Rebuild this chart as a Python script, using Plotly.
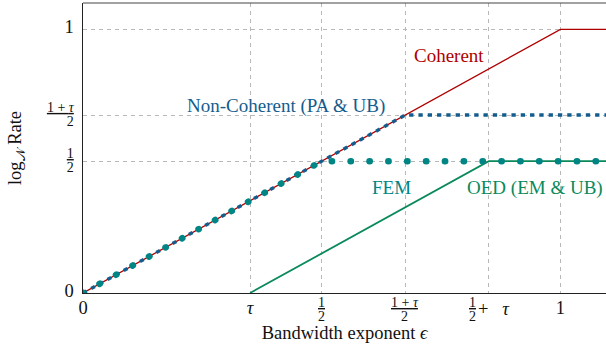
import plotly.graph_objects as go

# ---------------- data ----------------
coherent_x = [0, 1, 1.1]
coherent_y = [0, 1, 1]
noncoh_x = [0, 0.675, 1.1]
noncoh_y = [0, 0.675, 0.675]
fem_x = [0, 0.5, 1.1]
fem_y = [0, 0.5, 0.5]
oed_x = [0.35, 0.85, 1.1]
oed_y = [0, 0.5, 0.5]

x_tickvals = [0, 0.35, 0.5, 0.675, 0.85, 1]
y_tickvals = [0, 0.5, 0.675, 1]

RED = "#b00000"
BLUE = "#135d8e"
TEAL = "#008585"
GREEN = "#0a8a5a"
FONT = "Liberation Serif"


def big(t):
    return "<span style='font-size:18.5px'>%s</span>" % t


def sm(t):
    return "<span style='font-size:14px'>%s</span>" % t


def frac(n, d):
    return sm("<u>%s</u>" % n) + "<br>" + sm(d)


ONE_PLUS_TAU = "1 + <i>τ</i>"
# x fractions are drawn as separate pieces below (annotations), singles as tick text
x_ticktext = [big("0"), big("<i>τ</i>"), "", "", "", big("1")]
x_fractions = {0.5: ("1", "2", 0), 0.675: (ONE_PLUS_TAU, "2", 0), 0.85: ("1", "2", -16)}
y_ticktext = [big("0"), frac("1", "2"), frac(ONE_PLUS_TAU, "2"), big("1")]

fig = go.Figure()
fig.add_trace(go.Scatter(x=coherent_x, y=coherent_y, mode="lines",
                         line=dict(color=RED, width=1.3), hoverinfo="skip"))
fig.add_trace(go.Scatter(x=oed_x, y=oed_y, mode="lines",
                         line=dict(color=GREEN, width=1.8), hoverinfo="skip"))
fig.add_trace(go.Scatter(x=noncoh_x, y=noncoh_y, mode="lines",
                         line=dict(color=BLUE, width=3.4, dash="4.3px,5px"), hoverinfo="skip"))
fig.add_trace(go.Scatter(x=fem_x, y=fem_y, mode="lines",
                         line=dict(color=TEAL, width=6.5, dash="0.3px,18.55px"), hoverinfo="skip"))

tick_font = dict(family=FONT, size=10.5, color="#111")
grid = dict(showgrid=True, gridcolor="#b8b8b8", gridwidth=0.9, griddash="4px,4px",
            zeroline=False, showline=True, linecolor="#222", linewidth=1.2,
            ticks="", tickfont=tick_font)

fig.update_xaxes(range=[0, 1.0955], tickvals=x_tickvals, ticktext=x_ticktext,
                 ticklabelstandoff=7,
                 title=dict(text="Bandwidth exponent <i>ϵ</i>", standoff=9,
                            font=dict(family=FONT, size=18.5, color="#111")), **grid)
fig.update_yaxes(range=[0, 1.1], tickvals=y_tickvals, ticktext=y_ticktext,
                 ticklabelstandoff=6,
                 title=dict(text="log<sub>𝒩</sub> Rate", standoff=20,
                            font=dict(family=FONT, size=18.5, color="#111")), **grid)

lab = dict(family=FONT, size=19)
fig.add_annotation(x=0.766, y=0.90, text="Coherent", showarrow=False,
                   font=dict(lab, color=RED))
fig.add_annotation(x=0.4257, y=0.7105, text="Non-Coherent (PA &amp; UB)", showarrow=False,
                   font=dict(lab, color=BLUE))
fig.add_annotation(x=0.646, y=0.40, text="FEM", showarrow=False,
                   font=dict(lab, color=TEAL))
fig.add_annotation(x=0.947, y=0.40, text="OED (EM &amp; UB)", showarrow=False,
                   font=dict(lab, color=GREEN))

# fraction tick labels on the x axis
for xv, (num, den, dx) in x_fractions.items():
    fig.add_annotation(x=xv, y=0, xref="x", yref="paper", xanchor="center", yanchor="top",
                       xshift=dx, yshift=0, text=frac(num, den), showarrow=False,
                       font=tick_font)
# the "+ τ" part of the tick label ½ + τ
fig.add_annotation(x=0.85, y=0, xref="x", yref="paper", xanchor="left", yanchor="middle",
                   xshift=-13, yshift=-16, text="+\u2002\u2005<i>τ</i>", showarrow=False,
                   font=dict(family=FONT, size=18.5, color="#111"))

fig.add_shape(type="line", xref="paper", yref="paper", x0=0, x1=1, y0=1, y1=1,
              line=dict(color="#444", width=1.2))

fig.update_layout(width=606, height=351, margin=dict(l=83, r=0, t=3, b=58),
                  paper_bgcolor="white", plot_bgcolor="white", showlegend=False)

js = """
var st = document.createElement('style');
st.textContent = '.scatterlayer .trace:nth-of-type(4) path.js-line { stroke-linecap: round !important; }';
document.head.appendChild(st);
"""
fig.write_html("out.html", post_script=js)
